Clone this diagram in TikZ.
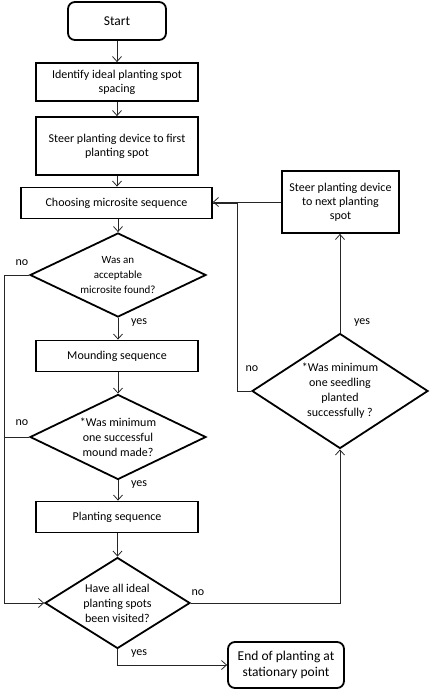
\documentclass[tikz,border=0pt]{standalone}
\usepackage{fontspec}
\setmainfont{Carlito}
\usetikzlibrary{arrows.meta,shapes.geometric}
\tikzset{
  procbox/.style={draw, line width=1.8pt, rectangle, align=center, font=\fontsize{12}{14}\selectfont, inner sep=1pt},
  terminal/.style={draw, line width=1.8pt, rectangle, rounded corners=7pt, align=center, font=\fontsize{13.5}{16}\selectfont, inner sep=1pt},
  decision/.style={draw, line width=1.8pt, diamond, align=center, font=\fontsize{12}{15}\selectfont, inner sep=0pt},
  flowline/.style={line width=0.8pt, draw=black!85},
  arrowline/.style={flowline, -{Straight Barb[length=5pt,width=9pt]}},
  lbl/.style={font=\fontsize{12}{14}\selectfont}
}
\begin{document}
\begin{tikzpicture}[x=1pt,y=-1pt]
		%%%%% FRAME %%%%%
		\useasboundingbox (0,0) rectangle (430,689);
		
		%%%%% MAIN COLUMN %%%%%
		\node[terminal, minimum width=98pt, minimum height=38pt] (start) at (117, 21) {Start};
		\node[procbox, minimum width=162pt, minimum height=38pt] (ident) at (117, 82) {Identify ideal planting spot\\spacing};
		\node[procbox, minimum width=162pt, minimum height=58pt] (steerfirst) at (117, 146) {Steer planting device to first\\planting spot};
		\node[procbox, minimum width=191pt, minimum height=31pt] (choose) at (116.5, 203) {Choosing microsite sequence};
		\node[decision, shape aspect=2, minimum width=176pt, minimum height=84pt, font=\fontsize{11}{15}\selectfont] (found) at (118, 275) {Was an\\acceptable\\microsite found?};
		\node[procbox, minimum width=162pt, minimum height=31pt] (mound) at (117, 356) {Mounding sequence};
		\node[decision, shape aspect=2, minimum width=176pt, minimum height=85pt] (mounddone) at (118, 437) {*Was minimum\\one successful\\mound made?};
		\node[procbox, minimum width=162pt, minimum height=31pt] (plant) at (117, 517) {Planting sequence};
		\node[decision, shape aspect=1.6, minimum width=145pt, minimum height=91pt] (visited) at (117.5, 603) {Have all ideal\\planting spots\\been visited?};
		\node[terminal, minimum width=116pt, minimum height=46pt] (finish) at (286, 665) {End of planting at\\stationary point};
		
		%%%%% RIGHT COLUMN %%%%%
		\node[procbox, minimum width=117pt, minimum height=62pt] (steernext) at (340.5, 202) {Steer planting device\\to next planting\\spot};
		\node[decision, shape aspect=1.5, minimum width=176pt, minimum height=115pt] (planted) at (340, 391) {*Was minimum\\one seedling\\planted\\successfully ?};
		
		\coordinate (leftrail) at (4, 275);
		\coordinate (rightrail) at (237, 391);
		
		%%%%% CONNECTORS %%%%%
		\draw[arrowline] (start) -- (ident);
		\draw[arrowline] (ident) -- (steerfirst);
		\draw[arrowline] (steerfirst.south) -- (steerfirst.south |- choose.north);
		\draw[arrowline] (choose.south -| found.north) -- (found.north);
		\draw[arrowline] (found.south) -- (found.south |- mound.north);
		\draw[arrowline] (mound.south -| mounddone.north) -- (mounddone.north);
		\draw[arrowline] (mounddone.south) -- (mounddone.south |- plant.north);
		\draw[arrowline] (plant.south -| visited.north) -- (visited.north);
		
		\draw[flowline] (found.west) -- (leftrail);
		\draw[flowline] (mounddone.west) -- (leftrail |- mounddone.west);
		\draw[arrowline] (leftrail) |- (visited.west);
		
		\draw[arrowline] (visited.east) -| (planted.south);
		\draw[arrowline] (visited.south) |- (finish.west);
		\draw[arrowline] (planted.north) -- (planted.north |- steernext.south);
		\draw[arrowline] (steernext.west) -- (steernext.west -| choose.east);
		\draw[flowline] (planted.west) -- (rightrail) |- (choose.east);
		
		%%%%% LABELS %%%%%
		\node[lbl] (nofound) at (22, 263) {no};
		\node[lbl] (yesfound) at (139, 323) {yes};
		\node[lbl] (nomound) at (22, 423) {no};
		\node[lbl] (yesmound) at (139, 485) {yes};
		\node[lbl] (novisited) at (198, 593) {no};
		\node[lbl] (yesvisited) at (139, 654) {yes};
		\node[lbl] (noplanted) at (252, 369) {no};
		\node[lbl] (yesplanted) at (362, 323) {yes};
\end{tikzpicture}
\end{document}
